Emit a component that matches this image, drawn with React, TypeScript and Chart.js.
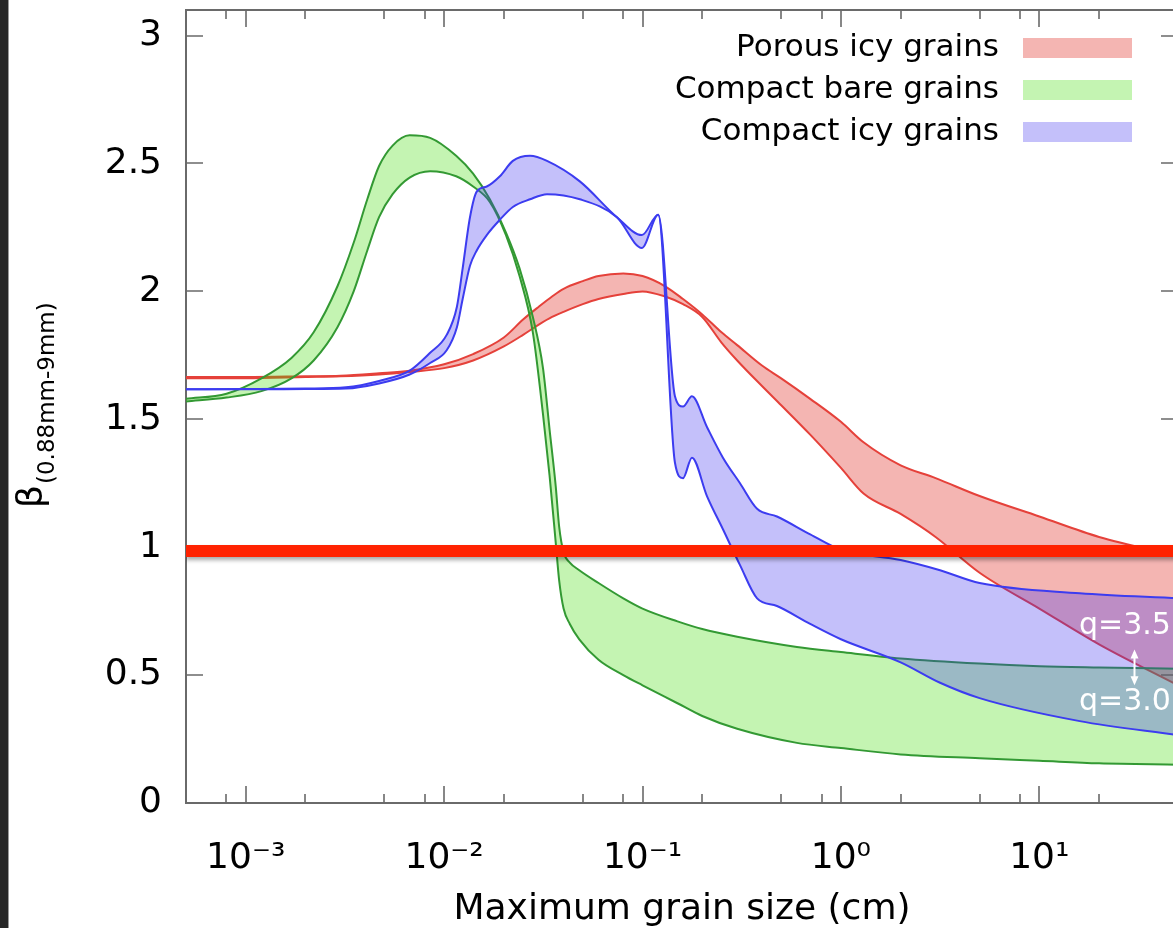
import React, { useEffect, useRef } from "react";
import { Chart, registerables } from "chart.js";

Chart.register(...registerables);

const FONT = "'DejaVu Sans', Verdana, sans-serif";

// ---- Porous icy grains (red band) ----
const porousSizes = [5e-4, 1e-3, 2e-3, 3e-3, 4.7e-3, 6.7e-3, 0.01, 0.014, 0.02, 0.025, 0.03, 0.035, 0.04, 0.05, 0.06, 0.08, 0.1, 0.13, 0.16, 0.2, 0.25, 0.3, 0.4, 0.5, 0.7, 1, 1.3, 2, 3, 5, 10, 20, 50];
const porousUpper = [1.665, 1.665, 1.668, 1.67, 1.68, 1.69, 1.715, 1.755, 1.82, 1.89, 1.94, 1.98, 2.01, 2.04, 2.06, 2.07, 2.06, 2.02, 1.97, 1.91, 1.84, 1.79, 1.71, 1.66, 1.58, 1.49, 1.41, 1.32, 1.27, 1.2, 1.12, 1.04, 0.965];
const porousLower = [1.66, 1.66, 1.665, 1.668, 1.675, 1.685, 1.7, 1.73, 1.785, 1.83, 1.87, 1.9, 1.92, 1.95, 1.97, 1.99, 2.0, 1.98, 1.95, 1.9, 1.8, 1.73, 1.63, 1.555, 1.44, 1.31, 1.21, 1.13, 1.04, 0.9, 0.76, 0.62, 0.46];

// ---- Compact bare grains (green band) ----
const bareSizes = [5e-4, 8e-4, 1.2e-3, 1.7e-3, 2.2e-3, 2.9e-3, 3.5e-3, 4.1e-3, 4.7e-3, 5.5e-3, 6.7e-3, 8.5e-3, 0.0115, 0.014, 0.017, 0.0205, 0.024, 0.028, 0.0315, 0.034, 0.0365, 0.038, 0.04, 0.043, 0.048, 0.06, 0.08, 0.1, 0.15, 0.2, 0.3, 0.6, 1, 2, 5, 10, 20, 50];
const bareUpper = [1.58, 1.6, 1.66, 1.74, 1.84, 2.02, 2.19, 2.36, 2.49, 2.57, 2.61, 2.6, 2.53, 2.46, 2.36, 2.23, 2.09, 1.9, 1.7, 1.46, 1.24, 1.08, 0.98, 0.94, 0.91, 0.86, 0.8, 0.76, 0.71, 0.68, 0.65, 0.61, 0.59, 0.565, 0.545, 0.535, 0.53, 0.525];
const bareLower = [1.57, 1.585, 1.61, 1.66, 1.73, 1.86, 2.0, 2.16, 2.29, 2.38, 2.445, 2.47, 2.45, 2.41, 2.35, 2.22, 2.06, 1.84, 1.52, 1.28, 1.02, 0.87, 0.76, 0.7, 0.64, 0.56, 0.5, 0.46, 0.39, 0.34, 0.29, 0.235, 0.215, 0.19, 0.175, 0.165, 0.155, 0.15];

// ---- Compact icy grains (blue band) ----
const icySizes = [5e-4, 1e-3, 2e-3, 3.2e-3, 4.7e-3, 6.7e-3, 8.5e-3, 0.0103, 0.0116, 0.0124, 0.0135, 0.0146, 0.0164, 0.0191, 0.0222, 0.0271, 0.033, 0.0483, 0.0743, 0.0993, 0.12, 0.1457, 0.16, 0.1774, 0.2112, 0.2543, 0.31, 0.378, 0.476, 0.7, 1, 2, 3.16, 5, 16, 50];
const icyUpper = [1.617, 1.618, 1.62, 1.625, 1.65, 1.69, 1.76, 1.83, 1.94, 2.09, 2.29, 2.39, 2.41, 2.45, 2.51, 2.53, 2.51, 2.43, 2.29, 2.22, 2.3, 1.59, 1.55, 1.59, 1.47, 1.35, 1.25, 1.15, 1.12, 1.05, 0.99, 0.95, 0.91, 0.86, 0.82, 0.8];
const icyLower = [1.617, 1.617, 1.618, 1.62, 1.64, 1.675, 1.72, 1.77, 1.86, 1.97, 2.1, 2.16, 2.22, 2.28, 2.33, 2.36, 2.38, 2.36, 2.29, 2.17, 2.3, 1.33, 1.27, 1.35, 1.2, 1.07, 0.93, 0.8, 0.77, 0.7, 0.64, 0.55, 0.47, 0.41, 0.32, 0.265];

// ---- beta = 1 reference line ----
const unitySizes = [5e-4, 50];
const unityValues = [0.985, 0.985];

// ---- axes ----
const xMin = 5e-4;
const xMax = 50;
const yMin = 0;
const yMax = 3.1;
const xMajorTicks = [1e-3, 1e-2, 1e-1, 1, 10];
const xMajorLabels = ["10⁻³", "10⁻²", "10⁻¹", "10⁰", "10¹"];
const xMinorTicks = [8e-4, 2e-3, 5e-3, 8e-3, 2e-2, 5e-2, 8e-2, 0.2, 0.5, 0.8, 2, 5, 8, 20];
const yTicks = [0, 0.5, 1, 1.5, 2, 2.5, 3];
const yTickLabels = ["0", "0.5", "1", "1.5", "2", "2.5", "3"];

// ---- legend & annotations ----
const legendLabels = ["Porous icy grains", "Compact bare grains", "Compact icy grains"];
const qLabels = ["q=3.5", "q=3.0"];
const qLabelValues = [0.69, 0.395];
const qLabelSize = 27;
const qArrowSize = 30;
const qArrowValues = [0.6, 0.46];

const RED_LINE = "#e5413a";
const RED_FILL = "rgba(220,10,0,0.3)";
const GREEN_LINE = "#339933";
const GREEN_FILL = "rgba(60,220,0,0.3)";
const BLUE_LINE = "#3c3cf0";
const BLUE_FILL = "rgba(60,45,240,0.3)";
const legendFills = [RED_FILL, GREEN_FILL, BLUE_FILL];

const pts = (xs: number[], ys: number[]) => xs.map((x, i) => ({ x, y: ys[i] }));

const bandLine = (data: any[], color: string, fill: any) => ({
  data,
  borderColor: color,
  backgroundColor: fill || "transparent",
  borderWidth: 2,
  pointRadius: 0,
  cubicInterpolationMode: "monotone",
  fill: fill ? "-1" : false,
});

const framePlugin = {
  id: "frame",
  beforeDatasetsDraw(chart: any) {
    const { ctx, chartArea: a, scales } = chart;
    const x = scales.x;
    const y = scales.y;
    ctx.save();
    ctx.strokeStyle = "#6a6a6a";
    ctx.lineWidth = 2;
    ctx.strokeRect(a.left, a.top, a.right - a.left, a.bottom - a.top);
    ctx.lineWidth = 1.6;
    ctx.beginPath();
    for (const v of xMajorTicks) {
      const px = Math.round(x.getPixelForValue(v));
      ctx.moveTo(px, a.bottom);
      ctx.lineTo(px, a.bottom - 17);
      ctx.moveTo(px, a.top);
      ctx.lineTo(px, a.top + 17);
    }
    for (const v of xMinorTicks) {
      const px = Math.round(x.getPixelForValue(v));
      ctx.moveTo(px, a.bottom);
      ctx.lineTo(px, a.bottom - 9);
      ctx.moveTo(px, a.top);
      ctx.lineTo(px, a.top + 9);
    }
    for (const v of yTicks) {
      const py = Math.round(y.getPixelForValue(v));
      ctx.moveTo(a.left, py);
      ctx.lineTo(a.left + 17, py);
      ctx.moveTo(a.right, py);
      ctx.lineTo(a.right - 17, py);
    }
    ctx.stroke();
    ctx.restore();
  },
  beforeDatasetDraw(chart: any, args: any) {
    if (args.index === 0) {
      const ctx = chart.ctx;
      ctx.save();
      ctx.shadowColor = "rgba(0,0,0,0.35)";
      ctx.shadowOffsetY = 3;
      ctx.shadowBlur = 4;
    }
  },
  afterDatasetDraw(chart: any, args: any) {
    if (args.index === 0) chart.ctx.restore();
  },
};

const overlayPlugin = {
  id: "overlay",
  afterDraw(chart: any) {
    const { ctx, chartArea: a, scales } = chart;
    const x = scales.x;
    const y = scales.y;
    ctx.save();

    // legend (text left, swatch right)
    ctx.font = `31px ${FONT}`;
    ctx.textAlign = "right";
    ctx.textBaseline = "middle";
    legendLabels.forEach((label, i) => {
      const cy = a.top + 38 + i * 42;
      ctx.fillStyle = "#000";
      ctx.fillText(label, 999, cy);
      ctx.fillStyle = legendFills[i];
      ctx.fillRect(1023, cy - 10, 109, 20);
    });

    // q annotations
    ctx.fillStyle = "#fff";
    ctx.font = `30px ${FONT}`;
    ctx.textAlign = "center";
    qLabels.forEach((t, i) => {
      ctx.fillText(t, x.getPixelForValue(qLabelSize), y.getPixelForValue(qLabelValues[i]));
    });
    const ax = Math.round(x.getPixelForValue(qArrowSize)) + 0.5;
    const ay1 = y.getPixelForValue(qArrowValues[0]);
    const ay2 = y.getPixelForValue(qArrowValues[1]);
    ctx.strokeStyle = "#fff";
    ctx.lineWidth = 2;
    ctx.beginPath();
    ctx.moveTo(ax, ay1 + 3);
    ctx.lineTo(ax, ay2 - 3);
    ctx.stroke();
    ctx.beginPath();
    ctx.moveTo(ax, ay1);
    ctx.lineTo(ax - 4, ay1 + 9);
    ctx.lineTo(ax + 4, ay1 + 9);
    ctx.closePath();
    ctx.moveTo(ax, ay2);
    ctx.lineTo(ax - 4, ay2 - 9);
    ctx.lineTo(ax + 4, ay2 - 9);
    ctx.closePath();
    ctx.fill();

    // y axis title: beta with subscript
    ctx.fillStyle = "#000";
    ctx.translate(42, 508);
    ctx.rotate(-Math.PI / 2);
    ctx.textAlign = "left";
    ctx.textBaseline = "alphabetic";
    ctx.font = `36px ${FONT}`;
    ctx.fillText("β", 0, 0);
    const w = ctx.measureText("β").width;
    ctx.font = `23px ${FONT}`;
    ctx.fillText("(0.88mm-9mm)", w + 1, 12);
    ctx.restore();
  },
};

export default function App() {
  const ref = useRef<HTMLCanvasElement | null>(null);

  useEffect(() => {
    if (!ref.current) return;
    const datasets: any[] = [
      {
        data: pts(unitySizes, unityValues),
        borderColor: "#ff2200",
        borderWidth: 12,
        pointRadius: 0,
        fill: false,
        borderCapStyle: "butt",
      },
      bandLine(pts(icySizes, icyUpper), BLUE_LINE, null),
      bandLine(pts(icySizes, icyLower), BLUE_LINE, BLUE_FILL),
      bandLine(pts(bareSizes, bareUpper), GREEN_LINE, null),
      bandLine(pts(bareSizes, bareLower), GREEN_LINE, GREEN_FILL),
      bandLine(pts(porousSizes, porousUpper), RED_LINE, null),
      bandLine(pts(porousSizes, porousLower), RED_LINE, RED_FILL),
    ];

    const chart = new Chart(ref.current, {
      type: "line",
      data: { datasets },
      options: {
        responsive: false,
        animation: false,
        devicePixelRatio: 1,
        events: [],
        layout: { padding: { left: 0, top: 10, right: 22, bottom: 0 } },
        plugins: {
          legend: { display: false },
          tooltip: { enabled: false },
          title: { display: false },
        },
        scales: {
          x: {
            type: "logarithmic",
            min: xMin,
            max: xMax,
            grid: { display: false },
            border: { display: false },
            afterBuildTicks: (s: any) => {
              s.ticks = xMajorTicks.map((v) => ({ value: v }));
            },
            afterFit: (s: any) => {
              s.height = 125;
              s.paddingLeft = 0;
              s.paddingRight = 0;
            },
            ticks: {
              autoSkip: false,
              maxRotation: 0,
              minRotation: 0,
              padding: 26,
              color: "#000",
              font: { family: FONT, size: 36 },
              callback: (_v: any, i: number) => xMajorLabels[i],
            },
            title: {
              display: true,
              text: "Maximum grain size (cm)",
              color: "#000",
              font: { family: FONT, size: 36, lineHeight: 1 },
              padding: 0,
            },
          },
          y: {
            type: "linear",
            min: yMin,
            max: yMax,
            grid: { display: false },
            border: { display: false },
            afterBuildTicks: (s: any) => {
              s.ticks = yTicks.map((v) => ({ value: v }));
            },
            afterFit: (s: any) => {
              s.width = 186;
              s.paddingTop = 0;
              s.paddingBottom = 0;
            },
            ticks: {
              padding: 16,
              color: "#000",
              font: { family: FONT, size: 36 },
              callback: (_v: any, i: number) => yTickLabels[i],
            },
          },
        },
      } as any,
      plugins: [framePlugin, overlayPlugin],
    });
    return () => chart.destroy();
  }, []);

  return (
    <div
      style={{
        position: "fixed",
        left: 0,
        top: 0,
        width: 1173,
        height: 928,
        overflow: "hidden",
        background: "#fff",
      }}
    >
      <canvas
        ref={ref}
        width={1200}
        height={928}
        style={{ display: "block", position: "absolute", left: 0, top: 0 }}
      />
      <div
        style={{
          position: "absolute",
          left: 0,
          top: 0,
          width: 8,
          height: 928,
          background: "#272727",
          borderRight: "1px solid #9a9a9a",
        }}
      />
    </div>
  );
}
